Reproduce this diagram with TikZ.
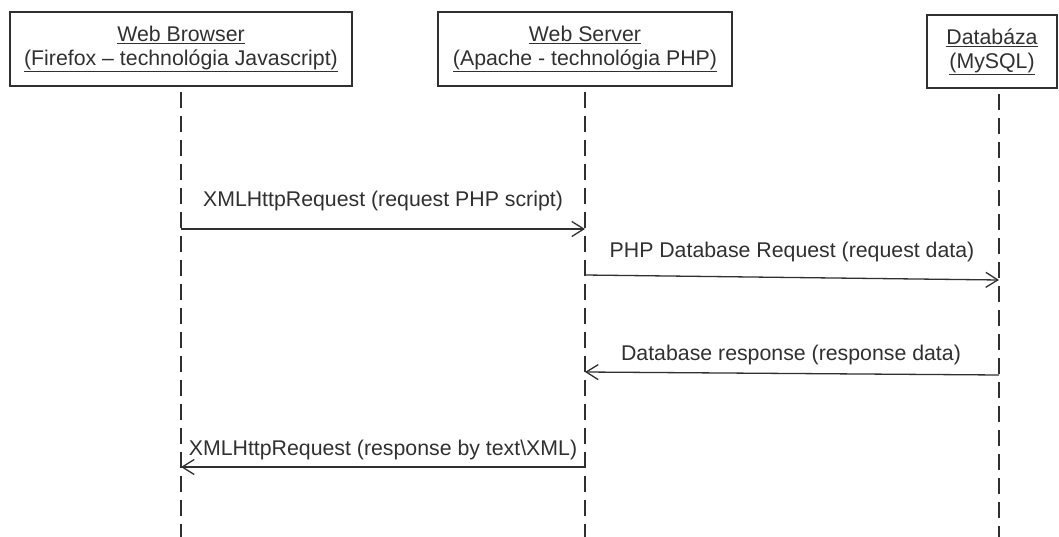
\documentclass[tikz,border=0pt]{standalone}
\usepackage{fontspec}
\setmainfont{Liberation Sans}
\usetikzlibrary{arrows.meta}
\definecolor{ink}{HTML}{303030}
\tikzset{
  actor/.style={draw=ink, line width=1.8pt, text=ink, align=center, inner sep=0pt,
    font=\fontsize{21.3}{23.5}\selectfont},
  life/.style={draw=ink, line width=1.8pt, dash pattern=on 16pt off 8pt},
  msg/.style={draw=ink, line width=1.3pt, -{Straight Barb[length=12pt,width=15pt,line width=1.3pt]}},
  lbl/.style={text=ink, font=\fontsize{21.3}{24}\selectfont, inner sep=0pt, anchor=base}
}
\begin{document}
\begin{tikzpicture}[x=1pt,y=-1pt]
\useasboundingbox (0,0) rectangle (1059,537);
% actor boxes
\draw[actor] (10,12) rectangle (352,86);
\node[actor, draw=none] (a) at (181,49) {\underline{Web Browser}\\\underline{(Firefox -- technológia Javascript)}};
\draw[actor] (438,12) rectangle (732,86);
\node[actor, draw=none] (b) at (585,49) {\underline{Web Server}\\\underline{(Apache - technológia PHP)}};
\draw[actor] (927,15) rectangle (1057,88);
\node[actor, draw=none] (c) at (992,52) {\underline{Databáza}\\\underline{(MySQL)}};
% lifelines
\coordinate (a0) at (181,92);
\coordinate (a1) at (181,537);
\coordinate (b0) at (585,92);
\coordinate (b1) at (585,537);
\coordinate (c0) at (999,94);
\coordinate (c1) at (999,537);
\draw[life] (a0) -- (a1);
\draw[life] (b0) -- (b1);
\draw[life] (c0) -- (c1);
% messages
\coordinate (m1s) at (181,229);
\coordinate (m1e) at (585,229);
\draw[msg] (m1s) -- (m1e);
\node[lbl] (l1) at (383,207) {XMLHttpRequest (request PHP script)};
\coordinate (m2s) at (585,275);
\coordinate (m2e) at (999,280);
\draw[msg] (m2s) -- (m2e);
\node[lbl] (l2) at (792,257) {PHP Database Request (request data)};
\coordinate (m3s) at (999,375);
\coordinate (m3e) at (585,372);
\draw[msg] (m3s) -- (m3e);
\node[lbl] (l3) at (791,360) {Database response (response data)};
\coordinate (m4s) at (585,467);
\coordinate (m4e) at (181,467);
\draw[msg] (m4s) -- (m4e);
\node[lbl] (l4) at (383,455) {XMLHttpRequest (response by text\textbackslash XML)};
\end{tikzpicture}
\end{document}
